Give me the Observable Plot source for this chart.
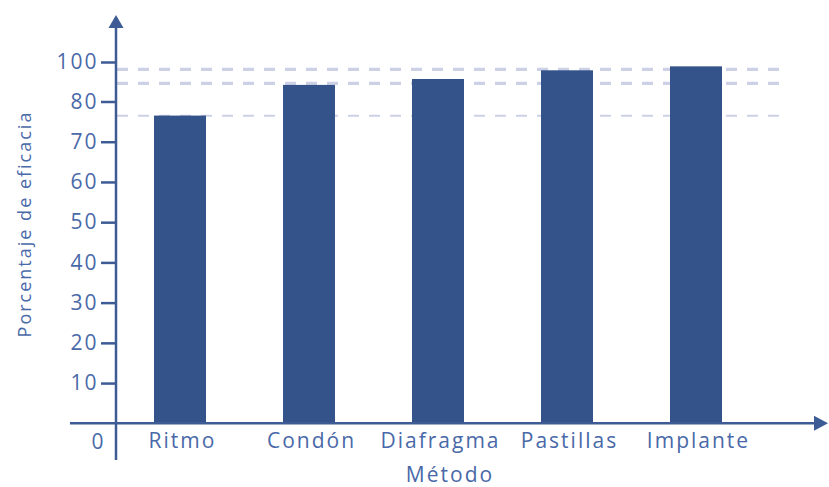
<!DOCTYPE html>
<html>
<head>
<meta charset="utf-8">
<script src="https://cdn.jsdelivr.net/npm/d3@7"></script>
<script src="https://cdn.jsdelivr.net/npm/@observablehq/plot@0.6"></script>
<style>
  html, body { margin: 0; padding: 0; background: #fff; }
</style>
</head>
<body>
<div id="chart"></div>
<script>
const categories = ["Ritmo", "Condón", "Diafragma", "Pastillas", "Implante"];
const efficacy = [76.5, 88.4, 91.4, 95.8, 97.8];
const refLines = [96.5, 89.4, 76.6];
const yTicks = [10, 20, 30, 40, 50, 60, 70, 80, 100];
const yLabel = "Porcentaje de eficacia";
const xLabel = "Método";
const zeroLabel = "0";

const data = categories.map((c, i) => ({ metodo: c, valor: efficacy[i] }));

const textColor = "#4a69a8";
const axisColor = "#3d5b94";
const barColor = "#34538a";
const gridColor = "#cdd1e6";

function axesLines(index, scales, values, dims) {
  const g = d3.create("svg:g");
  const y0 = scales.y(0);
  const xA = dims.marginLeft - 1;
  // horizontal axis
  g.append("line").attr("x1", 70).attr("x2", dims.width - 12)
    .attr("y1", y0).attr("y2", y0)
    .attr("stroke", axisColor).attr("stroke-width", 2.5);
  g.append("path")
    .attr("d", `M${dims.width - 1},${y0} L${dims.width - 15},${y0 - 7.5} L${dims.width - 15},${y0 + 7.5} Z`)
    .attr("fill", axisColor);
  // vertical axis
  g.append("line").attr("x1", xA).attr("x2", xA)
    .attr("y1", 460).attr("y2", 26)
    .attr("stroke", axisColor).attr("stroke-width", 2.5);
  g.append("path")
    .attr("d", `M${xA},15 L${xA - 7.5},28 L${xA + 7.5},28 Z`)
    .attr("fill", axisColor);
  return g.node();
}

const chart = Plot.plot({
  width: 829,
  height: 487,
  marginLeft: 117,
  marginRight: 47,
  marginTop: 24,
  marginBottom: 64,
  style: { fontFamily: "'Open Sans', sans-serif", fontSize: "20px", letterSpacing: "2px", background: "#fff" },
  x: { type: "band", domain: categories, range: [153.2, 721.9], paddingInner: 0.6, paddingOuter: 0, axis: null },
  y: { type: "linear", domain: [0, 80, 100], range: [423.3, 101.5, 62], axis: null },
  marks: [
    Plot.ruleY(refLines, { stroke: gridColor, strokeWidth: (d, i) => i === 2 ? 2 : 3.2, strokeDasharray: "11,10" }),
    Plot.barY(data, { x: "metodo", y: "valor", fill: barColor }),
    Plot.axisY({ ticks: yTicks, anchor: "left", tickSize: 16, tickPadding: 3, stroke: axisColor, fill: textColor, strokeWidth: 2.5, fontSize: 21, label: null }),
    Plot.text(categories, { x: d => d, y: 0, dx: 2, dy: 17.5, fill: textColor, fontSize: 21, lineAnchor: "middle" }),
    Plot.text([zeroLabel], { frameAnchor: "left", y: 0, dx: -12, dy: 18, textAnchor: "end", fill: textColor, fontSize: 21 }),
    Plot.text([xLabel], { frameAnchor: "bottom", dy: 52, fill: textColor, fontSize: 21, lineAnchor: "middle" }),
    Plot.text([yLabel], { frameAnchor: "left", dx: -92, rotate: -90, textAnchor: "middle", fill: textColor, fontSize: 18, lineAnchor: "middle" }),
    axesLines
  ]
});

document.getElementById("chart").appendChild(chart);
</script>
</body>
</html>
